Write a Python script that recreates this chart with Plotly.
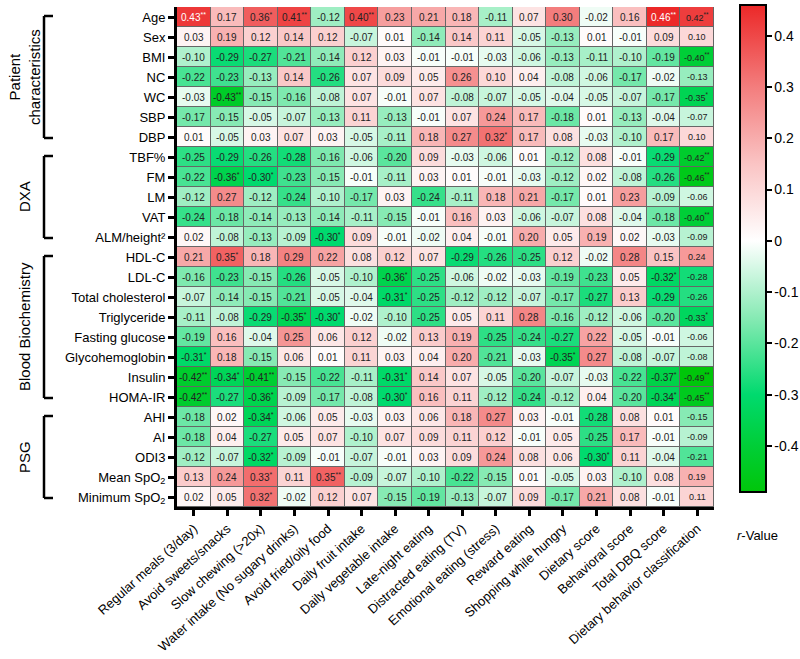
import plotly.graph_objects as go

rows = ["Age", "Sex", "BMI", "NC", "WC", "SBP", "DBP",
        "TBF%", "FM", "LM", "VAT", "ALM/height²",
        "HDL-C", "LDL-C", "Total cholesterol", "Triglyceride", "Fasting glucose",
        "Glycohemoglobin", "Insulin", "HOMA-IR",
        "AHI", "AI", "ODI3", "Mean SpO<sub>2</sub>", "Minimum SpO<sub>2</sub>"]

cols = ["Regular meals (3/day)", "Avoid sweets/snacks", "Slow chewing (>20x)",
        "Water intake (No sugary drinks)", "Avoid fried/oily food", "Daily fruit intake",
        "Daily vegetable intake", "Late-night eating", "Distracted eating (TV)",
        "Emotional eating (stress)", "Reward eating", "Shopping while hungry",
        "Dietary score", "Behavioral score", "Total DBQ score",
        "Dietary behavior classification"]

r_values = [
    [0.43, 0.17, 0.36, 0.41, -0.12, 0.40, 0.23, 0.21, 0.18, -0.11, 0.07, 0.30, -0.02, 0.16, 0.46, 0.42],
    [0.03, 0.19, 0.12, 0.14, 0.12, -0.07, 0.01, -0.14, 0.14, 0.11, -0.05, -0.13, 0.01, -0.01, 0.09, 0.10],
    [-0.10, -0.29, -0.27, -0.21, -0.14, 0.12, 0.03, -0.01, -0.01, -0.03, -0.06, -0.13, -0.11, -0.10, -0.19, -0.40],
    [-0.22, -0.23, -0.13, 0.14, -0.26, 0.07, 0.09, 0.05, 0.26, 0.10, 0.04, -0.08, -0.06, -0.17, -0.02, -0.13],
    [-0.03, -0.43, -0.15, -0.16, -0.08, 0.07, -0.01, 0.07, -0.08, -0.07, -0.05, -0.04, -0.05, -0.07, -0.17, -0.35],
    [-0.17, -0.15, -0.05, -0.07, -0.13, 0.11, -0.13, -0.01, 0.07, 0.24, 0.17, -0.18, 0.01, -0.13, -0.04, -0.07],
    [0.01, -0.05, 0.03, 0.07, 0.03, -0.05, -0.11, 0.18, 0.27, 0.32, 0.17, 0.08, -0.03, -0.10, 0.17, 0.10],
    [-0.25, -0.29, -0.26, -0.28, -0.16, -0.06, -0.20, 0.09, -0.03, -0.06, 0.01, -0.12, 0.08, -0.01, -0.29, -0.42],
    [-0.22, -0.36, -0.30, -0.23, -0.15, -0.01, -0.11, 0.03, 0.01, -0.01, -0.03, -0.12, 0.02, -0.08, -0.26, -0.46],
    [-0.12, 0.27, -0.12, -0.24, -0.10, -0.17, 0.03, -0.24, -0.11, 0.18, 0.21, -0.17, 0.01, 0.23, -0.09, -0.06],
    [-0.24, -0.18, -0.14, -0.13, -0.14, -0.11, -0.15, -0.01, 0.16, 0.03, -0.06, -0.07, 0.08, -0.04, -0.18, -0.40],
    [0.02, -0.08, -0.13, -0.09, -0.30, 0.09, -0.01, -0.02, 0.04, -0.01, 0.20, 0.05, 0.19, 0.02, -0.03, -0.09],
    [0.21, 0.35, 0.18, 0.29, 0.22, 0.08, 0.12, 0.07, -0.29, -0.26, -0.25, 0.12, -0.02, 0.28, 0.15, 0.24],
    [-0.16, -0.23, -0.15, -0.26, -0.05, -0.10, -0.36, -0.25, -0.06, -0.02, -0.03, -0.19, -0.23, 0.05, -0.32, -0.28],
    [-0.07, -0.14, -0.15, -0.21, -0.05, -0.04, -0.31, -0.25, -0.12, -0.12, -0.07, -0.17, -0.27, 0.13, -0.29, -0.26],
    [-0.11, -0.08, -0.29, -0.35, -0.30, -0.02, -0.10, -0.25, 0.05, 0.11, 0.28, -0.16, -0.12, -0.06, -0.20, -0.33],
    [-0.19, 0.16, -0.04, 0.25, 0.06, 0.12, -0.02, 0.13, 0.19, -0.25, -0.24, -0.27, 0.22, -0.05, -0.01, -0.06],
    [-0.31, 0.18, -0.15, 0.06, 0.01, 0.11, 0.03, 0.04, 0.20, -0.21, -0.03, -0.35, 0.27, -0.08, -0.07, -0.08],
    [-0.42, -0.34, -0.41, -0.15, -0.22, -0.11, -0.31, 0.14, 0.07, -0.05, -0.20, -0.07, -0.03, -0.22, -0.37, -0.49],
    [-0.42, -0.27, -0.36, -0.09, -0.17, -0.08, -0.30, 0.16, 0.11, -0.12, -0.24, -0.12, 0.04, -0.20, -0.34, -0.45],
    [-0.18, 0.02, -0.34, -0.06, 0.05, -0.03, 0.03, 0.06, 0.18, 0.27, 0.03, -0.01, -0.28, 0.08, 0.01, -0.15],
    [-0.18, 0.04, -0.27, 0.05, 0.07, -0.10, 0.07, 0.09, 0.11, 0.12, -0.01, 0.05, -0.25, 0.17, -0.01, -0.09],
    [-0.12, -0.07, -0.32, -0.09, -0.01, -0.07, -0.01, 0.03, 0.09, 0.24, 0.08, 0.06, -0.30, 0.11, -0.04, -0.21],
    [0.13, 0.24, 0.33, 0.11, 0.35, -0.09, -0.07, -0.10, -0.22, -0.15, 0.01, -0.05, 0.03, -0.10, 0.08, 0.19],
    [0.02, 0.05, 0.32, -0.02, 0.12, 0.07, -0.15, -0.19, -0.13, -0.07, 0.09, -0.17, 0.21, 0.08, -0.01, 0.11],
]

# significance: 0 none, 1 = *, 2 = **
sig = [
    [2, 0, 1, 2, 0, 2, 0, 0, 0, 0, 0, 0, 0, 0, 2, 2],
    [0] * 16,
    [0] * 15 + [2],
    [0] * 16,
    [0, 2] + [0] * 13 + [1],
    [0] * 16,
    [0] * 9 + [1] + [0] * 6,
    [0] * 15 + [2],
    [0, 1, 1] + [0] * 12 + [2],
    [0] * 16,
    [0] * 15 + [2],
    [0, 0, 0, 0, 1] + [0] * 11,
    [0, 1] + [0] * 14,
    [0] * 6 + [1] + [0] * 7 + [1, 0],
    [0] * 6 + [1] + [0] * 9,
    [0, 0, 0, 1, 1] + [0] * 10 + [1],
    [0] * 16,
    [1] + [0] * 10 + [1] + [0] * 4,
    [2, 1, 2, 0, 0, 0, 1] + [0] * 7 + [1, 2],
    [2, 0, 1, 0, 0, 0, 1] + [0] * 7 + [1, 2],
    [0, 0, 1] + [0] * 13,
    [0] * 16,
    [0, 0, 1] + [0] * 9 + [1, 0, 0, 0],
    [0, 0, 1, 0, 2] + [0] * 11,
    [0, 0, 1] + [0] * 13,
]

groups = [("Patient<br>characteristics", 0, 6), ("DXA", 7, 11),
          ("Blood Biochemistry", 12, 19), ("PSG", 20, 24)]

cb_ticks = [0.4, 0.3, 0.2, 0.1, 0, -0.1, -0.2, -0.3, -0.4]
cb_labels = ["0.4", "0.3", "0.2", "0.1", "0", "-0.1", "-0.2", "-0.3", "-0.4"]

zmin, zmax = -0.49, 0.46
def pos(v):
    return (v - zmin) / (zmax - zmin)

colorscale = [
    [0.0, "rgb(0,198,10)"],
    [pos(-0.40), "rgb(0,206,55)"],
    [pos(-0.30), "rgb(0,218,110)"],
    [pos(-0.15), "rgb(135,234,180)"],
    [pos(0.0), "rgb(255,255,255)"],
    [pos(0.15), "rgb(250,196,196)"],
    [pos(0.30), "rgb(243,125,125)"],
    [1.0, "rgb(236,40,40)"],
]

nr, nc = len(rows), len(cols)
W = 537.0
def px2paper(px):
    return (px - 177) / W

fig = go.Figure()
fig.add_trace(go.Heatmap(
    z=r_values, x=list(range(nc)), y=list(range(nr)),
    zmin=zmin, zmax=zmax, colorscale=colorscale,
    xgap=1, ygap=1, hoverinfo="skip",
    colorbar=dict(
        x=px2paper(730), xanchor="left", xref="paper", xpad=10,
        y=1.004, yanchor="top", lenmode="pixels", len=487, ypad=0,
        thickness=26, thicknessmode="pixels",
        outlinecolor="black", outlinewidth=2,
        tickvals=cb_ticks, ticktext=cb_labels,
        ticks="outside", ticklen=5, tickwidth=2, tickcolor="black",
        tickfont=dict(family="Arial", size=14, color="black"),
    ),
))

annotations = []
for i in range(nr):
    for j in range(nc):
        v = r_values[i][j]
        s = sig[i][j]
        txt = f"{v:.2f}"
        if s:
            txt += "<sup>" + "*" * s + "</sup>"
        color = "white" if v >= 0.43 else "#222222"
        size = 9 if j == nc - 1 else 10
        annotations.append(dict(x=j, y=i, xref="x", yref="y", text=txt,
                                showarrow=False,
                                font=dict(family="Arial", size=size, color=color)))

shapes = []
for label, a, b in groups:
    y0, y1 = a - 0.05, b + 0.05
    xl, xr = px2paper(44), px2paper(53)
    shapes.append(dict(type="line", xref="paper", yref="y", x0=xl, x1=xl, y0=y0, y1=y1,
                       line=dict(color="black", width=2.5)))
    shapes.append(dict(type="line", xref="paper", yref="y", x0=xl, x1=xr, y0=y0, y1=y0,
                       line=dict(color="black", width=2.5)))
    shapes.append(dict(type="line", xref="paper", yref="y", x0=xl, x1=xr, y0=y1, y1=y1,
                       line=dict(color="black", width=2.5)))
    annotations.append(dict(x=px2paper(24), y=(a + b) / 2, xref="paper", yref="y",
                            text=label, textangle=-90, showarrow=False,
                            font=dict(family="Arial", size=15, color="black"),
                            xanchor="center", yanchor="middle"))

annotations.append(dict(x=px2paper(757), y=(507 - 526) / 500.0, xref="paper", yref="paper",
                        text="<i>r</i>-Value", showarrow=False, yanchor="top", xanchor="center",
                        font=dict(family="Arial", size=13, color="black")))

fig.update_layout(
    width=800, height=659,
    margin=dict(l=177, r=86, t=7, b=152, autoexpand=False),
    paper_bgcolor="white", plot_bgcolor="#666666",
    annotations=annotations, shapes=shapes,
    font=dict(family="Arial", color="black"),
)
fig.update_xaxes(
    tickvals=list(range(nc)), ticktext=cols, tickangle=-42, automargin=False,
    range=[-0.5, nc - 0.5], showline=True, linewidth=3, linecolor="black",
    ticks="outside", ticklen=6, tickwidth=3, tickcolor="black",
    tickfont=dict(family="Arial", size=13, color="black"), showgrid=False, zeroline=False,
)
fig.update_yaxes(
    tickvals=list(range(nr)), ticktext=rows, automargin=False,
    range=[nr - 0.5, -0.5], showline=True, linewidth=3, linecolor="black",
    ticks="outside", ticklen=6, tickwidth=3, tickcolor="black",
    tickfont=dict(family="Arial", size=13, color="black"), showgrid=False, zeroline=False,
)

fig.write_html("out.html")
